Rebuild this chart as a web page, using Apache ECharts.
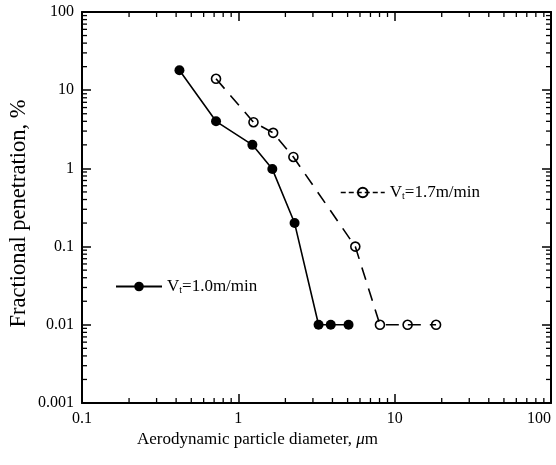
<!DOCTYPE html>
<html><head><meta charset="utf-8">
<script src="https://cdn.jsdelivr.net/npm/echarts@6/dist/echarts.min.js"></script>
<style>html,body{margin:0;padding:0;background:#fff}#c{width:556px;height:465px}</style>
</head><body><div id="c"></div>
<script>
// Data
var diamSlow = [0.42, 0.72, 1.23, 1.65, 2.29, 3.26, 3.9, 5.07];
var penSlow  = [18, 4.0, 2.0, 0.98, 0.2, 0.01, 0.01, 0.01];
var diamFast = [0.72, 1.25, 1.67, 2.25, 5.6, 8.05, 12.1, 18.4];
var penFast  = [14, 3.9, 2.85, 1.4, 0.1, 0.01, 0.01, 0.01];
var xTickLabels = ['0.1', '1', '10', '100'];
var yTickLabels = ['0.001', '0.01', '0.1', '1', '10', '100'];
var minorMult = [2, 3, 4, 5, 6, 7, 8, 9];
var xDecades = [0.1, 1, 10];
var yDecades = [0.001, 0.01, 0.1, 1, 10];

var FONT = '"Liberation Serif", "Times New Roman", serif';
var xMinor = [], yMinor = [];
xDecades.forEach(function (d) { minorMult.forEach(function (m) { xMinor.push(+(d * m).toPrecision(6)); }); });
yDecades.forEach(function (d) { minorMult.forEach(function (m) { yMinor.push(+(d * m).toPrecision(6)); }); });

function fmt(v) { return String(parseFloat(Number(v).toPrecision(6))); }

var chart = echarts.init(document.getElementById('c'), null, { renderer: 'canvas' });

var axisLineStyle = { color: '#000', width: 2 };
var tickStyle = { color: '#000', width: 1.5 };

var minorTickSeries = {
  type: 'custom',
  silent: true,
  clip: false,
  z: 1,
  xAxisIndex: 0, yAxisIndex: 0,
  data: xMinor.map(function (v) { return [v, 'x']; }).concat(yMinor.map(function (v) { return [v, 'y']; })),
  renderItem: function (params, api) {
    var v = api.value(0);
    var kind = params.dataIndex < xMinor.length ? 'x' : 'y';
    var L = 5;
    var children = [];
    if (kind === 'x') {
      var b = api.coord([v, 0.001]);
      var t = api.coord([v, 100]);
      children.push({ type: 'line', shape: { x1: b[0], y1: b[1], x2: b[0], y2: b[1] - L }, style: { stroke: '#000', lineWidth: 1.3 } });
      children.push({ type: 'line', shape: { x1: t[0], y1: t[1], x2: t[0], y2: t[1] + L }, style: { stroke: '#000', lineWidth: 1.3 } });
    } else {
      var l = api.coord([0.1, v]);
      var r = api.coord([100, v]);
      children.push({ type: 'line', shape: { x1: l[0], y1: l[1], x2: l[0] + L, y2: l[1] }, style: { stroke: '#000', lineWidth: 1.3 } });
      children.push({ type: 'line', shape: { x1: r[0], y1: r[1], x2: r[0] - L, y2: r[1] }, style: { stroke: '#000', lineWidth: 1.3 } });
    }
    return { type: 'group', children: children };
  },
  encode: { x: 0 }
};

function legendText() {
  return {
    fontFamily: FONT, color: '#000', rich: {
      n: { fontFamily: FONT, fontSize: 17, color: '#000' },
      s: { fontFamily: FONT, fontSize: 10, color: '#000', verticalAlign: 'bottom', padding: [8, 0, 0, 0] }
    }
  };
}

var option = {
  backgroundColor: '#fff',
  animation: false,
  textStyle: { fontFamily: FONT },
  grid: { left: 82, right: 5, top: 12, bottom: 62, containLabel: false, outerBoundsMode: 'none' },
  legend: [
    {
      data: ['slow'], left: 110, top: 273, itemWidth: 46, itemHeight: 12, itemGap: 6,
      formatter: function () { return '{n|V}{s|t}{n|=1.0m/min}'; },
      textStyle: legendText()
    },
    {
      data: ['fast'], left: 335, top: 179, itemWidth: 44, itemHeight: 12, itemGap: 6,
      lineStyle: { type: [5, 3], width: 1.5 },
      formatter: function () { return '{n|V}{s|t}{n|=1.7m/min}'; },
      textStyle: legendText()
    }
  ],
  xAxis: [
    {
      type: 'log', logBase: 10, min: 0.1, max: 100, position: 'bottom',
      axisLine: { show: true, lineStyle: axisLineStyle },
      axisTick: { show: true, inside: true, length: 9, lineStyle: tickStyle },
      splitLine: { show: false },
      axisLabel: { color: '#000', fontFamily: FONT, fontSize: 16, margin: 8, alignMaxLabel: 'right',
        formatter: function (v) { var s = fmt(v); return xTickLabels.indexOf(s) >= 0 ? s : ''; } },
      name: '{n|Aerodynamic particle diameter, }{i|μ}{n|m}',
      nameLocation: 'middle', nameGap: 28, nameMoveOverlap: false,
      nameTextStyle: { padding: [0, 118, 0, 0], rich: {
        n: { fontFamily: FONT, fontSize: 17, color: '#000' },
        i: { fontFamily: FONT, fontSize: 17, color: '#000', fontStyle: 'italic' } } }
    },
    {
      type: 'log', logBase: 10, min: 0.1, max: 100, position: 'top',
      axisLine: { show: true, lineStyle: axisLineStyle },
      axisTick: { show: true, inside: true, length: 9, lineStyle: tickStyle },
      axisLabel: { show: false }, splitLine: { show: false }
    }
  ],
  yAxis: [
    {
      type: 'log', logBase: 10, min: 0.001, max: 100, position: 'left',
      axisLine: { show: true, lineStyle: axisLineStyle },
      axisTick: { show: true, inside: true, length: 9, lineStyle: tickStyle },
      splitLine: { show: false },
      axisLabel: { color: '#000', fontFamily: FONT, fontSize: 16, margin: 8,
        formatter: function (v) { var s = fmt(v); return yTickLabels.indexOf(s) >= 0 ? s : ''; } },
      name: 'Fractional penetration, %',
      nameLocation: 'middle', nameGap: 51, nameRotate: 90, nameMoveOverlap: false,
      nameTextStyle: { fontFamily: FONT, fontSize: 22.5, color: '#000', padding: [0, 12, 0, 0] }
    },
    {
      type: 'log', logBase: 10, min: 0.001, max: 100, position: 'right',
      axisLine: { show: true, lineStyle: axisLineStyle },
      axisTick: { show: true, inside: true, length: 9, lineStyle: tickStyle },
      axisLabel: { show: false }, splitLine: { show: false }
    }
  ],
  series: [
    {
      name: 'slow', type: 'line',
      data: diamSlow.map(function (d, i) { return [d, penSlow[i]]; }),
      symbol: 'circle', symbolSize: 10,
      itemStyle: { color: '#000' },
      lineStyle: { color: '#000', width: 1.6 },
      z: 3
    },
    {
      name: 'fast', type: 'line',
      data: diamFast.map(function (d, i) { return [d, penFast[i]]; }),
      symbol: 'circle', symbolSize: 9,
      itemStyle: { color: 'rgba(255,255,255,0)', borderColor: '#000', borderWidth: 1.6 },
      lineStyle: { color: '#000', width: 1.6, type: [13, 9] },
      z: 3
    },
    minorTickSeries
  ]
};
chart.setOption(option);
</script></body></html>
